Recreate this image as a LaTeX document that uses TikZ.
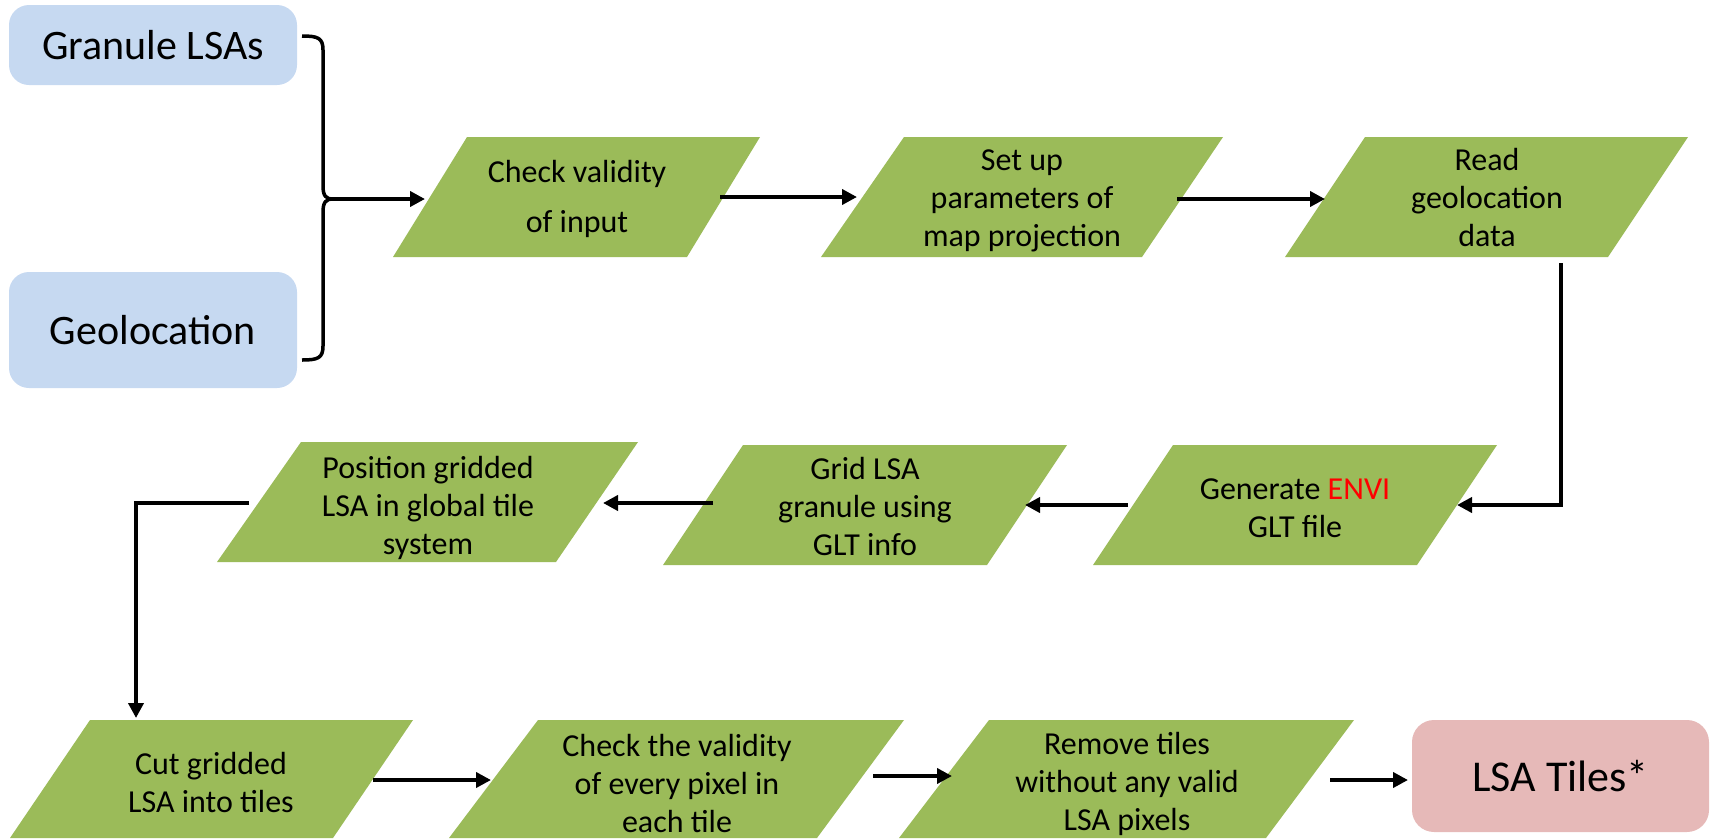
\documentclass[tikz,border=0pt]{standalone}
\usepackage{fontspec}
\setmainfont{Carlito}
\usetikzlibrary{arrows.meta}
\definecolor{pgreen}{HTML}{9BBB59}
\definecolor{pblue}{HTML}{C6D9F1}
\definecolor{ppink}{HTML}{E6B9B8}
\definecolor{pred}{HTML}{FF0000}
\begin{document}
\begin{tikzpicture}[x=1pt,y=-1pt,
  inbox/.style={fill=pblue, rounded corners=20pt, minimum width=288pt, inner sep=0pt, font=\fontsize{42}{50}\selectfont},
  outbox/.style={fill=ppink, rounded corners=22pt, minimum width=297pt, minimum height=112pt, inner sep=0pt, font=\fontsize{44}{52}\selectfont},
  paratext/.style={align=center, inner sep=0pt, font=\fontsize{32}{38}\selectfont},
  para/.style={fill=pgreen},
  conn/.style={line width=4pt, -{Triangle[length=15pt,width=15pt]}},
  bracestyle/.style={line width=3.5pt, line join=round, line cap=butt}
]
\useasboundingbox (0,0) rectangle (1712,838);

% input boxes
\node[inbox, minimum height=80pt] (gran) at (153,45) {Granule LSAs};
\node[inbox, minimum height=116pt] (geo) at (153,330) {Geolocation};

% row 1
\fill[para] (467,137) -- (760,137) -- (687,257) -- (393,257) -- cycle;
\node[paratext, font=\fontsize{32}{50}\selectfont] (p1) at (577,199) {Check validity\\of input};
\fill[para] (904,137) -- (1223,137) -- (1142,257) -- (821,257) -- cycle;
\node[paratext] (p2) at (1022,201) {Set up\\parameters of\\map projection};
\fill[para] (1365,137) -- (1688,137) -- (1608,257) -- (1285,257) -- cycle;
\node[paratext] (p3) at (1487,198) {Read\\geolocation\\data};

% row 2
\fill[para] (1173,445) -- (1497,445) -- (1417,565) -- (1093,565) -- cycle;
\node[paratext] (p4) at (1295,508) {Generate \textcolor{pred}{ENVI}\\GLT file};
\fill[para] (743,445) -- (1067,445) -- (987,565) -- (663,565) -- cycle;
\node[paratext] (p5) at (865,506) {Grid LSA\\granule using\\GLT info};
\fill[para] (301,442) -- (638,442) -- (556,562) -- (217,562) -- cycle;
\node[paratext] (p6) at (428,508) {Position gridded\\LSA in global tile\\system};

% row 3
\fill[para] (90,720) -- (413,720) -- (333,838) -- (10,838) -- cycle;
\node[paratext] (p7) at (211,782) {Cut gridded\\LSA into tiles};
\fill[para] (538,720) -- (904,720) -- (817,838) -- (449,838) -- cycle;
\node[paratext] (p8) at (677,783) {Check the validity\\of every pixel in\\each tile};
\fill[para] (989,720) -- (1354,720) -- (1266,838) -- (899,838) -- cycle;
\node[paratext] (p9) at (1127,784) {Remove tiles\\without any valid\\LSA pixels};

\node[outbox] (tiles) at (1560.5,776) {LSA Tiles*};

% connector end points
\coordinate (granr) at (302,36);
\coordinate (geor) at (302,360);
\coordinate (bracetip) at (333,199);
\coordinate (p1in) at (425,199);
\coordinate (p1out) at (720,197);
\coordinate (p2in) at (857,197);
\coordinate (p2out) at (1177,199);
\coordinate (p3in) at (1325,199);
\coordinate (p3out) at (1561,263);
\coordinate (p4in) at (1457,505);
\coordinate (p4out) at (1128,505);
\coordinate (p5in) at (1025,505);
\coordinate (p5out) at (713,503);
\coordinate (p6in) at (603,503);
\coordinate (p6out) at (249,503);
\coordinate (p7in) at (136,718);
\coordinate (p7out) at (373,780);
\coordinate (p8in) at (491,780);
\coordinate (p8out) at (873,776);
\coordinate (p9in) at (952,776);
\coordinate (p9out) at (1330,780);
\coordinate (tilesin) at (1408,780);

% brace joining the inputs
\draw[bracestyle] (granr) .. controls (318,36) and (323,38) .. (323,50) -- (323,186)
  .. controls (323,196) and (326,199) .. (bracetip)
  .. controls (326,199) and (323,202) .. (323,212) -- (323,346)
  .. controls (323,358) and (318,360) .. (geor);

% connectors
\draw[conn] (bracetip) -- (p1in);
\draw[conn] (p1out) -- (p2in);
\draw[conn] (p2out) -- (p3in);
\draw[conn] (p3out) |- (p4in);
\draw[conn] (p4out) -- (p5in);
\draw[conn] (p5out) -- (p6in);
\draw[conn] (p6out) -| (p7in);
\draw[conn] (p7out) -- (p8in);
\draw[conn] (p8out) -- (p9in);
\draw[conn] (p9out) -- (tilesin);
\end{tikzpicture}
\end{document}
